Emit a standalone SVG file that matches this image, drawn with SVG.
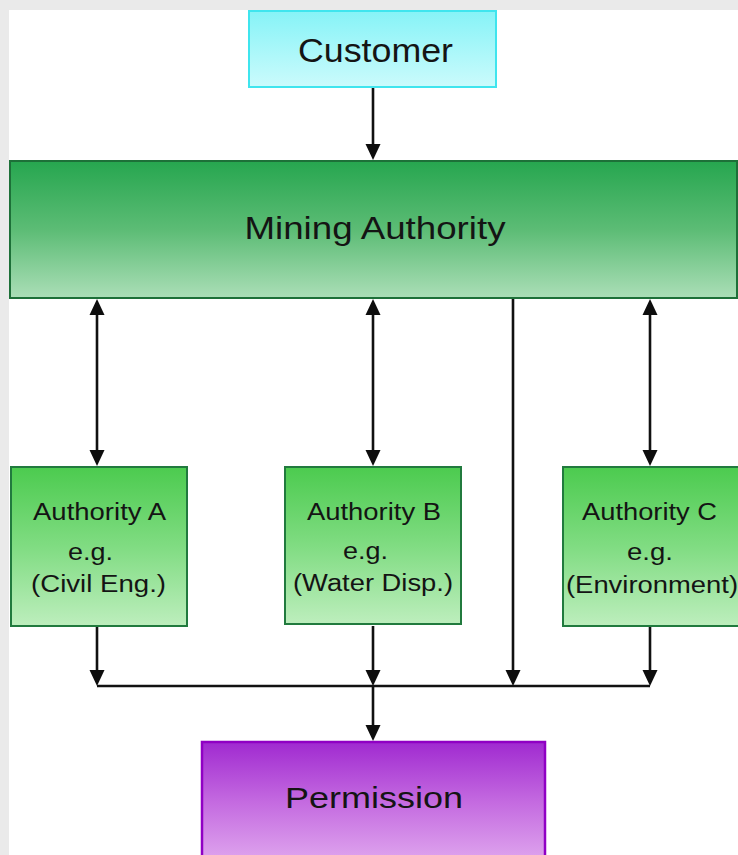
<svg xmlns="http://www.w3.org/2000/svg" width="738" height="855" viewBox="0 0 738 855">
  <defs>
    <linearGradient id="gCust" x1="0" y1="0" x2="0" y2="1">
      <stop offset="0" stop-color="#86f3f7"/>
      <stop offset="1" stop-color="#cbfbfc"/>
    </linearGradient>
    <linearGradient id="gMine" x1="0" y1="0" x2="0" y2="1">
      <stop offset="0" stop-color="#26a64f"/>
      <stop offset="0.5" stop-color="#5cbc75"/>
      <stop offset="1" stop-color="#abdeb7"/>
    </linearGradient>
    <linearGradient id="gAuth" x1="0" y1="0" x2="0" y2="1">
      <stop offset="0" stop-color="#4ccb4f"/>
      <stop offset="0.5" stop-color="#80dc82"/>
      <stop offset="1" stop-color="#bdeebd"/>
    </linearGradient>
    <linearGradient id="gPerm" x1="0" y1="0" x2="0" y2="1">
      <stop offset="0" stop-color="#a02ad0"/>
      <stop offset="0.5" stop-color="#c46ae0"/>
      <stop offset="1" stop-color="#dfa6ee"/>
    </linearGradient>
    <marker id="ah" viewBox="0 0 16 16" refX="8" refY="8" markerWidth="16" markerHeight="16" markerUnits="userSpaceOnUse" orient="auto-start-reverse">
      <path d="M0,0.5 L16,8 L0,15.5 z" fill="#0d0d0d"/>
    </marker>
    <style>
      .lbl { font-family: "Liberation Sans", Arial, sans-serif; fill: #141414; text-anchor: middle; }
      .big { font-size: 32px; }
      .sm { font-size: 23px; }
      .con { stroke: #111; stroke-width: 2.6; fill: none; }
      .arr { marker-end: url(#ah); }
      .dbl { marker-start: url(#ah); marker-end: url(#ah); }
      .auth { fill: url(#gAuth); stroke: #217a3e; stroke-width: 2; }
    </style>
  </defs>

  <rect x="0" y="0" width="738" height="855" fill="#eaeaea"/>
  <rect x="9" y="10" width="729" height="845" fill="#ffffff"/>

  <g id="connectors">
    <line class="con arr" x1="373" y1="88" x2="373" y2="152"/>
    <line class="con dbl" x1="97" y1="307" x2="97" y2="458"/>
    <line class="con dbl" x1="373" y1="307" x2="373" y2="458"/>
    <line class="con dbl" x1="650" y1="307" x2="650" y2="458"/>
    <line class="con arr" x1="513" y1="299" x2="513" y2="678"/>
    <line class="con arr" x1="97" y1="627" x2="97" y2="678"/>
    <line class="con arr" x1="373" y1="626" x2="373" y2="678"/>
    <line class="con arr" x1="650" y1="627" x2="650" y2="678"/>
    <polyline class="con" points="97,686 650,686"/>
    <line class="con arr" x1="373" y1="686" x2="373" y2="733"/>
  </g>

  <g id="customer">
    <rect x="249" y="11" width="247" height="76" fill="url(#gCust)" stroke="#3fe5ee" stroke-width="2"/>
    <text class="lbl" x="375.5" y="62" font-size="33" textLength="155" lengthAdjust="spacingAndGlyphs">Customer</text>
  </g>

  <g id="mining-authority">
    <rect x="10" y="161" width="727" height="137" fill="url(#gMine)" stroke="#1d7038" stroke-width="2"/>
    <text class="lbl big" x="375" y="239" textLength="261" lengthAdjust="spacingAndGlyphs">Mining Authority</text>
  </g>

  <g id="authority-a">
    <rect class="auth" x="11" y="467" width="176" height="159"/>
    <text class="lbl sm" x="99.5" y="520" textLength="133" lengthAdjust="spacingAndGlyphs">Authority A</text>
    <text class="lbl sm" x="90.5" y="560" textLength="45" lengthAdjust="spacingAndGlyphs">e.g.</text>
    <text class="lbl sm" x="98.5" y="592" textLength="135" lengthAdjust="spacingAndGlyphs">(Civil Eng.)</text>
  </g>

  <g id="authority-b">
    <rect class="auth" x="285" y="467" width="176" height="157"/>
    <text class="lbl sm" x="374" y="520" textLength="134" lengthAdjust="spacingAndGlyphs">Authority B</text>
    <text class="lbl sm" x="365.5" y="559" textLength="45" lengthAdjust="spacingAndGlyphs">e.g.</text>
    <text class="lbl sm" x="373" y="591" textLength="160" lengthAdjust="spacingAndGlyphs">(Water Disp.)</text>
  </g>

  <g id="authority-c">
    <rect class="auth" x="563" y="467" width="176" height="159"/>
    <text class="lbl sm" x="649.5" y="520" textLength="135" lengthAdjust="spacingAndGlyphs">Authority C</text>
    <text class="lbl sm" x="650" y="560" textLength="46" lengthAdjust="spacingAndGlyphs">e.g.</text>
    <text class="lbl sm" x="652" y="593" textLength="172" lengthAdjust="spacingAndGlyphs">(Environment)</text>
  </g>

  <g id="permission">
    <rect x="202" y="742" width="343" height="120" fill="url(#gPerm)" stroke="#9000c4" stroke-width="2.5"/>
    <text class="lbl" x="374" y="808" font-size="30" textLength="178" lengthAdjust="spacingAndGlyphs">Permission</text>
  </g>
</svg>
